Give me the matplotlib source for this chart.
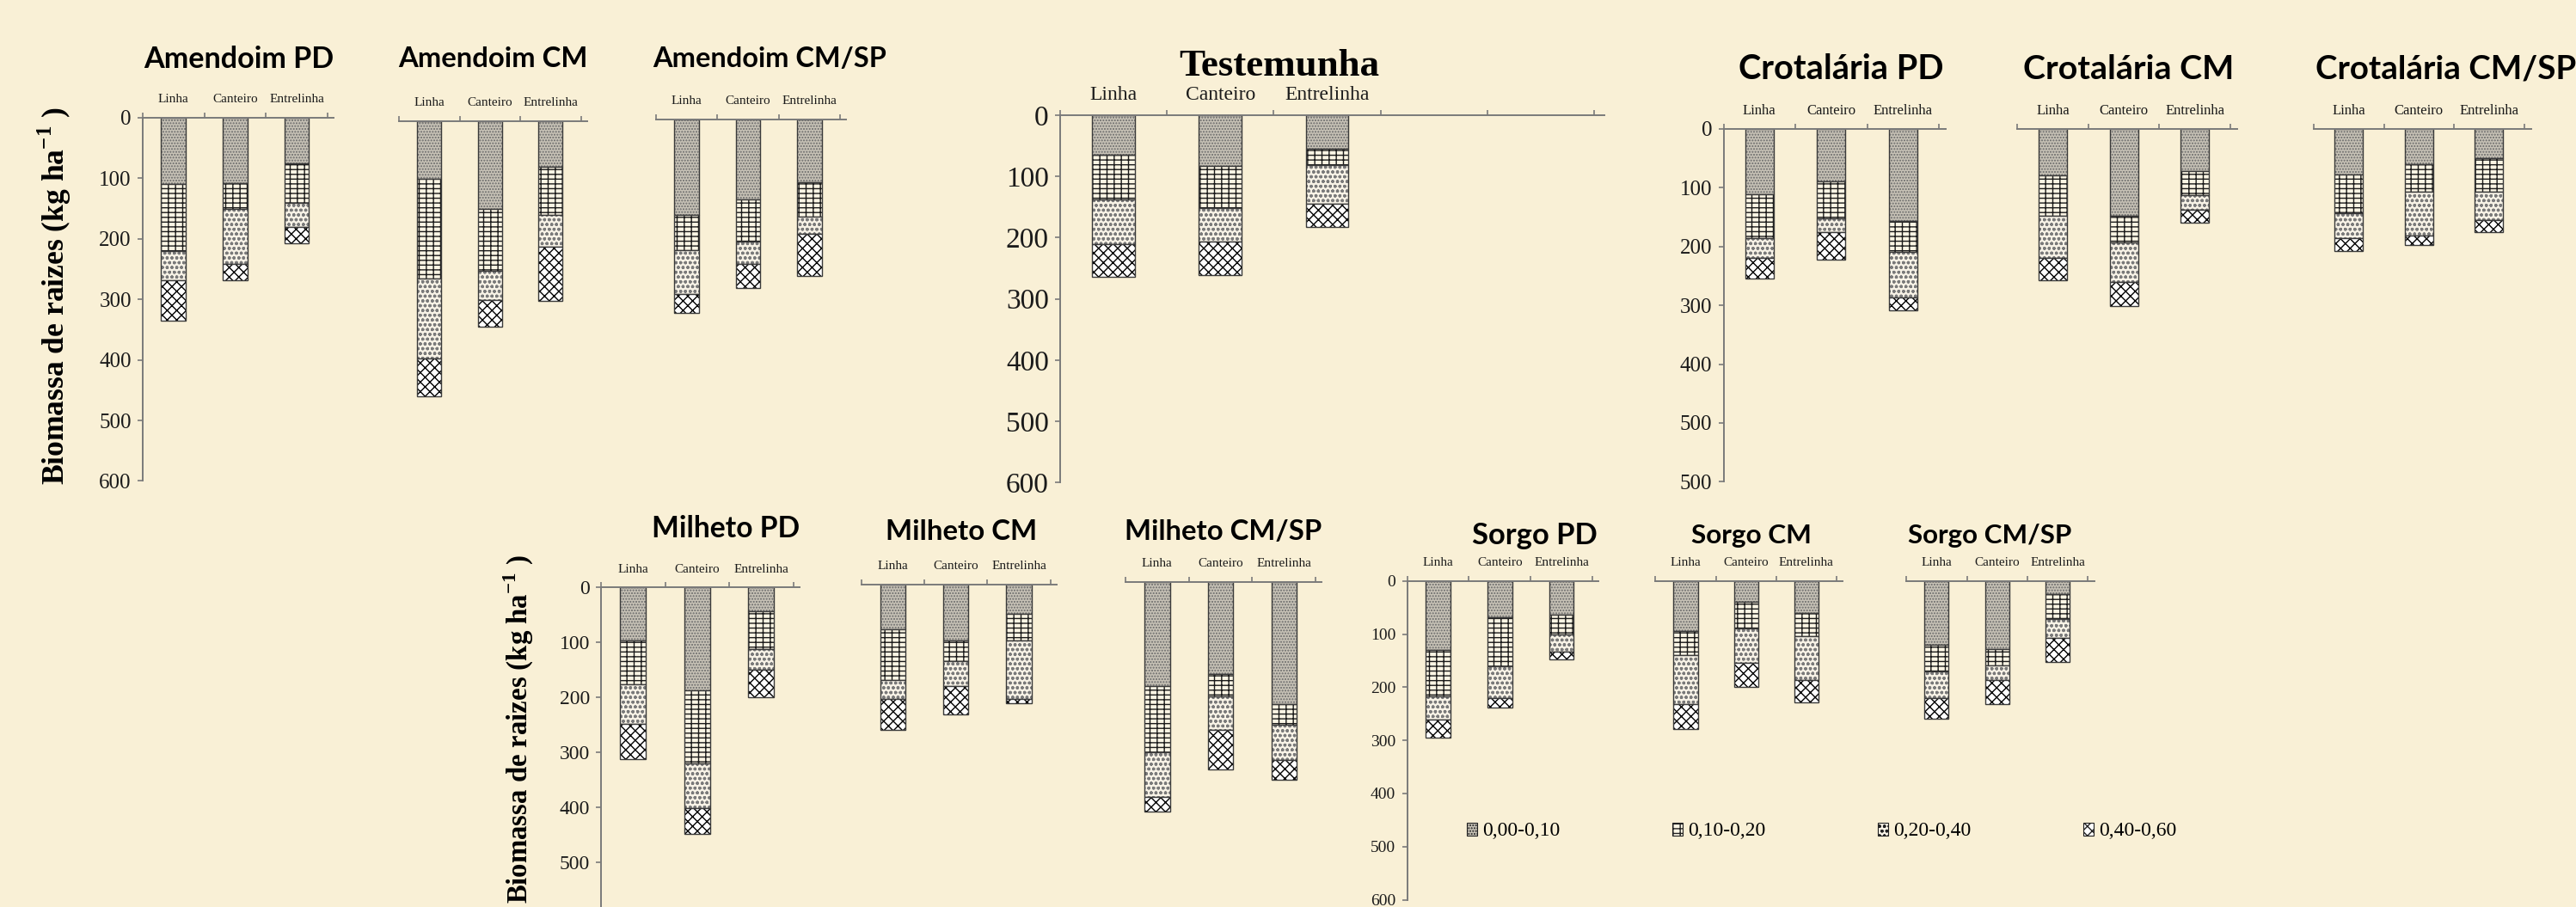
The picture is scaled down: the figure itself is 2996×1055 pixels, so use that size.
import matplotlib
matplotlib.use("Agg")
import matplotlib.pyplot as plt
from matplotlib import font_manager
from matplotlib.patches import Patch
from matplotlib.ticker import FixedLocator, FixedFormatter

W, H = 2996, 1055
DPI = 100
FUNDO = "#F9F0D6"

CATEGORIAS = ["Linha", "Canteiro", "Entrelinha"]
CAMADAS = ["0,00-0,10", "0,10-0,20", "0,20-0,40", "0,40-0,60"]
Y_TICKS = [0, 100, 200, 300, 400, 500, 600]
Y_LABELS = ["0", "100", "200", "300", "400", "500", "600"]
Y_LABELS_CROT = ["0", "100", "200", "300", "400", "500", "500"]
Y_LABELS_MILHETO = ["0", "100", "200", "300", "400", "500"]
YLABEL = r"Biomassa de raizes (kg ha$^{\mathbf{-1}}$ )"

# biomassa de raizes por camada: linhas = camadas, colunas = Linha, Canteiro, Entrelinha
AMENDOIM_PD = [[109, 108, 75], [111, 42, 66], [49, 91, 39], [66, 27, 28]]
AMENDOIM_CM = [[95, 146, 76], [166, 101, 79], [131, 49, 53], [63, 44, 89]]
AMENDOIM_CMSP = [[158, 132, 103], [58, 70, 57], [72, 37, 29], [32, 40, 70]]
TESTEMUNHA = [[64, 83, 55], [74, 69, 27], [72, 54, 62], [54, 55, 39]]
CROTALARIA_PD = [[111, 89, 157], [74, 63, 52], [35, 23, 77], [35, 47, 23]]
CROTALARIA_CM = [[79, 147, 72], [68, 46, 41], [72, 67, 25], [39, 41, 22]]
CROTALARIA_CMSP = [[78, 60, 50], [66, 47, 57], [42, 75, 48], [21, 16, 21]]
MILHETO_PD = [[97, 187, 44], [80, 134, 68], [71, 81, 37], [64, 46, 51]]
MILHETO_CM = [[82, 101, 53], [92, 38, 48], [34, 46, 107], [56, 52, 8]]
MILHETO_CMSP = [[190, 168, 222], [120, 40, 39], [81, 61, 64], [28, 73, 35]]
SORGO_PD = [[130, 69, 63], [88, 91, 37], [43, 61, 33], [34, 18, 14]]
SORGO_CM = [[94, 40, 60], [45, 49, 44], [93, 66, 82], [46, 44, 42]]
SORGO_CMSP = [[121, 128, 25], [49, 31, 47], [50, 28, 35], [40, 45, 46]]

# padrao de cada camada
ESTILOS = [
    dict(facecolor="#C7C2B6", edgecolor="#6A6A6A", hatch="....."),
    dict(facecolor="#FBF5E4", edgecolor="#1A1A1A", hatch="---||"),
    dict(facecolor="#F7F2E6", edgecolor="#7A7A7A", hatch="ooo"),
    dict(facecolor="#FFFFFF", edgecolor="#000000", hatch="xxx"),
]

nomes = {f.name for f in font_manager.fontManager.ttflist}
FONTE_TITULO = "Liberation Sans Narrow" if "Liberation Sans Narrow" in nomes else "Lato"

plt.rcParams["hatch.linewidth"] = 1.0
plt.rcParams["mathtext.fontset"] = "custom"
plt.rcParams["mathtext.rm"] = "Liberation Serif"
plt.rcParams["mathtext.bf"] = "Liberation Serif:bold"

# (titulo, dados, x0, largura categoria, n categorias, y0, px por unidade, eixo y, rotulos y,
#  tam. ticks, tam. categorias, titulo x, titulo y, largura titulo, serif)
PAINEIS = [
    ("Amendoim PD", AMENDOIM_PD, 166, 71.6, 3, 137, 0.704, True, Y_LABELS, 18, 11, 278, 69, 221, False),
    ("Amendoim CM", AMENDOIM_CM, 464, 70.5, 3, 140.7, 0.704, False, None, 18, 11, 573, 69, 221, False),
    ("Amendoim CM/SP", AMENDOIM_CMSP, 763, 71.3, 3, 139, 0.704, False, None, 18, 11, 895, 69, 271, False),
    ("Testemunha", TESTEMUNHA, 1233, 124.2, 5, 134, 0.712, True, Y_LABELS, 24, 17, 1488, 77, 234, True),
    ("Crotalária PD", CROTALARIA_PD, 2004.5, 83.5, 3, 150, 0.684, True, Y_LABELS_CROT, 18, 12, 2141, 81, 239, False),
    ("Crotalária CM", CROTALARIA_CM, 2346, 82.7, 3, 150, 0.684, False, None, 18, 12, 2476, 81, 246, False),
    ("Crotalária CM/SP", CROTALARIA_CMSP, 2691, 81.5, 3, 150, 0.684, False, None, 18, 12, 2845, 81, 303, False),
    ("Milheto PD", MILHETO_PD, 699, 74.5, 3, 683.3, 0.639, True, Y_LABELS_MILHETO, 17, 11, 844, 615, 172, False),
    ("Milheto CM", MILHETO_CM, 1002, 73.2, 3, 680, 0.639, False, None, 17, 11, 1118, 618, 176, False),
    ("Milheto CM/SP", MILHETO_CMSP, 1309, 73.7, 3, 676.7, 0.639, False, None, 17, 11, 1423, 618, 229, False),
    ("Sorgo PD", SORGO_PD, 1636.5, 71.8, 3, 675.7, 0.618, True, Y_LABELS, 14, 11, 1785, 623, 146, False),
    ("Sorgo CM", SORGO_CM, 1925.4, 70.2, 3, 675.7, 0.618, False, None, 14, 11, 2037, 623, 140, False),
    ("Sorgo CM/SP", SORGO_CMSP, 2217, 70.5, 3, 675.7, 0.618, False, None, 14, 11, 2314, 623, 191, False),
]

EIXO = "#7A7A7A"
PT = DPI / 72.0


def desenha_painel(fig, painel):
    (titulo, dados, x0, cw, ncat, y0, ppu, eixo_y, rot_y, tam_tick, tam_cat,
     tx, ty, tw, serif) = painel
    ext = 0.1
    alt = 600 * ppu
    ax = fig.add_axes([x0 / W, 1 - (y0 + alt) / H, (ncat + ext) * cw / W, alt / H])
    ax.set_facecolor("none")
    ax.set_xlim(0, ncat + ext)
    ax.set_ylim(600, 0)

    xs = [i + 0.5 for i in range(len(CATEGORIAS))]
    base = [0] * len(CATEGORIAS)
    for camada, estilo in zip(dados, ESTILOS):
        ax.bar(xs, camada, 0.4, bottom=base, linewidth=0, **estilo)
        ax.bar(xs, camada, 0.4, bottom=base, fill=False, edgecolor="#3A3A3A", linewidth=1.0)
        base = [b + v for b, v in zip(base, camada)]

    for s in ["bottom", "right"]:
        ax.spines[s].set_visible(False)
    ax.spines["top"].set_color(EIXO)
    ax.spines["top"].set_linewidth(1.4)
    ax.xaxis.set_ticks_position("top")
    ax.xaxis.set_major_locator(FixedLocator(list(range(ncat + 1))))
    ax.xaxis.set_major_formatter(FixedFormatter([""] * (ncat + 1)))
    ax.tick_params(axis="x", which="major", direction="out", length=4.5, width=1.2, color=EIXO)

    if eixo_y:
        ax.spines["left"].set_color(EIXO)
        ax.spines["left"].set_linewidth(1.4)
        ax.yaxis.set_major_locator(FixedLocator(Y_TICKS[:len(rot_y)]))
        ax.yaxis.set_major_formatter(FixedFormatter(rot_y))
        ax.tick_params(axis="y", direction="out", length=4.5, width=1.2, color=EIXO, pad=5,
                       labelsize=tam_tick, labelcolor="#1A1A1A")
        for lb in ax.get_yticklabels():
            lb.set_family("Liberation Serif")
    else:
        ax.spines["left"].set_visible(False)
        ax.set_yticks([])

    dist = 21 if not serif else 23
    for x, cat in zip(xs, CATEGORIAS):
        ax.annotate(cat, xy=(x, 1), xycoords=("data", "axes fraction"),
                    xytext=(0, dist / PT), textcoords="offset points",
                    ha="center", va="center", family="Liberation Serif",
                    fontsize=tam_cat, color="#1A1A1A")

    if serif:
        t = fig.text(tx / W, 1 - ty / H, titulo, ha="center", va="center",
                     family="Liberation Serif", weight="bold", fontsize=26)
    else:
        t = fig.text(tx / W, 1 - ty / H, titulo, ha="center", va="center",
                     family=[FONTE_TITULO, "DejaVu Sans"], weight="bold", fontsize=24)
    return t, tw


fig = plt.figure(figsize=(W / DPI, H / DPI), dpi=DPI, facecolor=FUNDO)

titulos = [desenha_painel(fig, p) for p in PAINEIS]

yl1 = fig.text(63 / W, 1 - 344 / H, YLABEL, rotation=90, ha="center", va="center",
               family="Liberation Serif", weight="bold", fontsize=23)
yl2 = fig.text(603 / W, 1 - 645 / H, YLABEL, rotation=90, ha="center", va="top",
               family="Liberation Serif", weight="bold", fontsize=22)

handles = [Patch(linewidth=0.8, **e) for e in ESTILOS]
for h in handles:
    h.set_edgecolor("#222222")
fig.legend(handles, CAMADAS, ncol=4, loc="center left",
           bbox_to_anchor=(1706 / W, 1 - 967 / H), frameon=False,
           prop={"family": "Liberation Serif", "size": 17},
           handlelength=0.5, handleheight=0.6, handletextpad=0.25,
           columnspacing=5.55, borderpad=0, borderaxespad=0)

# ajusta tamanho dos titulos e dos rotulos y para as medidas da figura
fig.canvas.draw()
r = fig.canvas.get_renderer()
for t, tw in titulos:
    bb = t.get_window_extent(r)
    t.set_fontsize(t.get_fontsize() * tw / bb.width)
bb = yl1.get_window_extent(r)
yl1.set_fontsize(yl1.get_fontsize() * 440 / bb.height)
bb = yl2.get_window_extent(r)
yl2.set_fontsize(yl2.get_fontsize() * 405 / bb.height)

fig.savefig("out.png", dpi=DPI, facecolor=FUNDO)
